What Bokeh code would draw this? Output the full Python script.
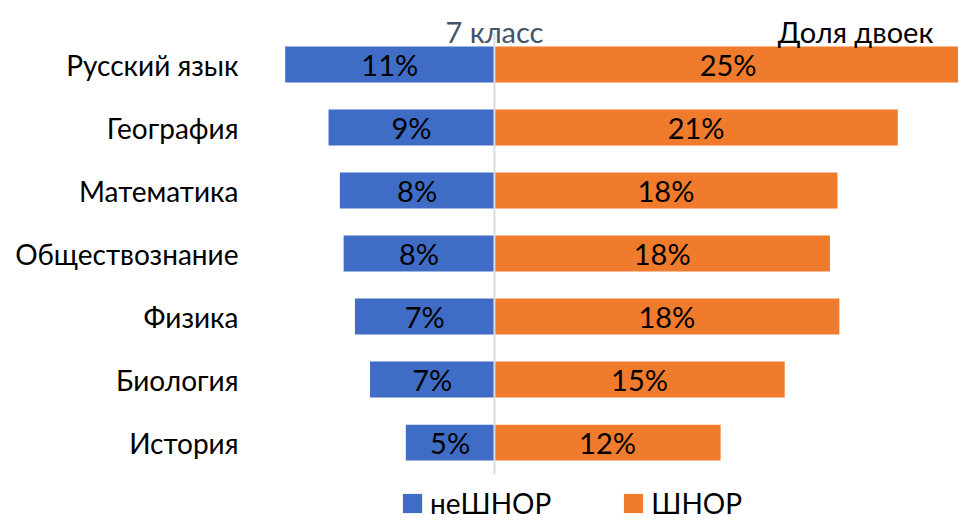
from bokeh.plotting import figure
from bokeh.models import (Range1d, FixedTicker, Label, Legend, LegendItem,
                          ColumnDataSource)
from bokeh.embed import file_html
from bokeh.resources import INLINE
from bokeh.core.properties import value

# ---- data -------------------------------------------------------------
subjects = ["Русский язык", "География", "Математика", "Обществознание",
            "Физика", "Биология", "История"]
ne_shnor = [11.1, 8.8, 8.2, 8.0, 7.4, 6.6, 4.7]      # неШНОР, %
shnor = [24.8, 21.4, 18.2, 17.8, 18.3, 15.4, 12.0]    # ШНОР, %
series_names = ["неШНОР", "ШНОР"]
title_text = "7 класс"
subtitle_text = "Доля двоек"

FONT = "Lato"
BLUE = "#3f6dc6"
ORANGE = "#f07b2c"

rows = list(range(len(subjects)))
src = ColumnDataSource(dict(
    y=rows,
    left=[-v for v in ne_shnor],
    right=shnor,
    zero=[0] * len(rows),
    left_mid=[-v / 2 for v in ne_shnor],
    right_mid=[v / 2 for v in shnor],
    left_lbl=[f"{round(v)}%" for v in ne_shnor],
    right_lbl=[f"{round(v)}%" for v in shnor],
))

p = figure(width=958, height=524,
           x_range=Range1d(-12.41, 24.62),
           y_range=Range1d(7.30, -1.016),
           output_backend="svg", toolbar_location=None,
           x_axis_location=None,
           min_border_left=260, min_border_right=0,
           min_border_top=0, min_border_bottom=0)
p.grid.visible = False
p.outline_line_color = None
p.background_fill_color = "white"

r_left = p.hbar(y="y", left="left", right="zero", height=0.57, source=src,
                fill_color=BLUE, line_color=None)
r_right = p.hbar(y="y", left="zero", right="right", height=0.57, source=src,
                 fill_color=ORANGE, line_color=None)

# centre line
p.segment(x0=[0], y0=[-0.5], x1=[0], y1=[6.5], line_color="#d6dbe5",
          line_width=2)

p.text(x="left_mid", y="y", text="left_lbl", source=src,
       text_align="center", text_baseline="middle",
       text_font=value(FONT), text_font_size="29px", text_color="black")
p.text(x="right_mid", y="y", text="right_lbl", source=src,
       text_align="center", text_baseline="middle",
       text_font=value(FONT), text_font_size="29px", text_color="black")

ax = p.yaxis[0]
ax.ticker = FixedTicker(ticks=rows)
ax.major_label_overrides = {i: s for i, s in zip(rows, subjects)}
ax.axis_line_color = None
ax.major_tick_line_color = None
ax.minor_tick_line_color = None
ax.major_tick_in = 0
ax.major_tick_out = 0
ax.major_label_standoff = 22
ax.major_label_text_font = FONT
ax.major_label_text_font_size = "28px"
ax.major_label_text_color = "black"

p.add_layout(Label(x=0, y=-0.53, text=title_text, text_align="center",
                   text_baseline="alphabetic", text_font=FONT,
                   text_font_size="29px", text_color="#44546a"))
p.add_layout(Label(x=23.29, y=-0.53, text=subtitle_text, text_align="right",
                   text_baseline="alphabetic", text_font=FONT,
                   text_font_size="29px", text_color="black"))

legend = Legend(items=[LegendItem(label=series_names[0], renderers=[r_left]),
                       LegendItem(label=series_names[1], renderers=[r_right])],
                orientation="horizontal", location=(140, 4),
                glyph_width=24, glyph_height=24, label_standoff=6,
                spacing=70, padding=0, margin=0,
                border_line_color=None, background_fill_alpha=0,
                label_text_font=FONT, label_text_font_size="28px",
                label_text_color="black")
p.add_layout(legend)

open("out.html", "w").write(file_html(p, INLINE))
